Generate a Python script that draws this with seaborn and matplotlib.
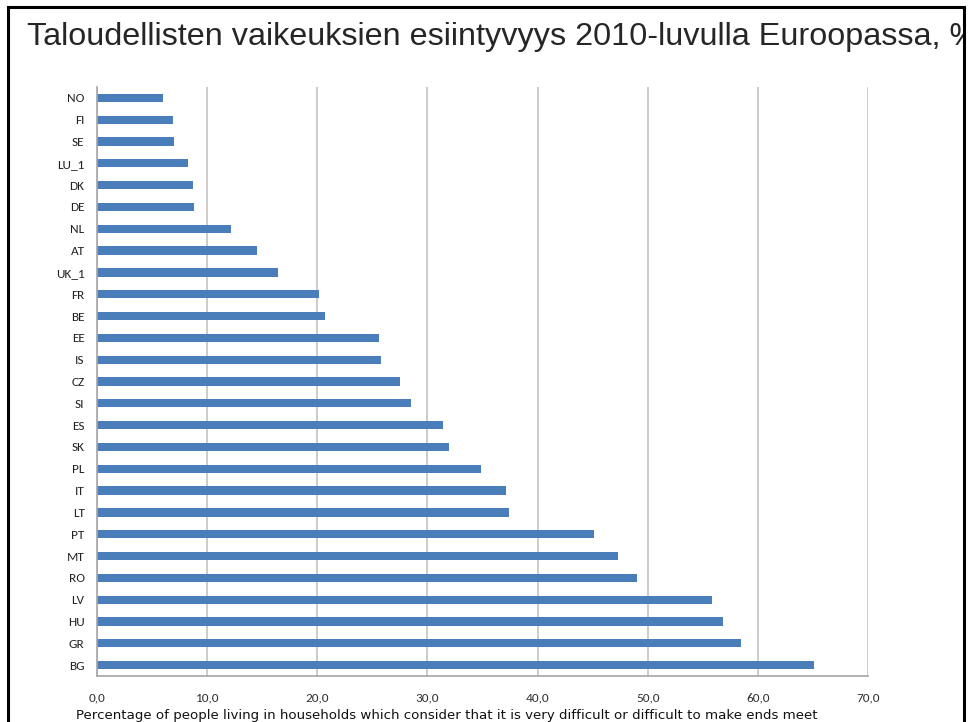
import matplotlib
matplotlib.use("Agg")
import matplotlib.pyplot as plt
import matplotlib.patches as patches
from matplotlib.ticker import FuncFormatter, FixedLocator
import pandas as pd
import seaborn as sns

# Data
countries = ["NO", "FI", "SE", "LU_1", "DK", "DE", "NL", "AT", "UK_1", "FR",
             "BE", "EE", "IS", "CZ", "SI", "ES", "SK", "PL", "IT", "LT",
             "PT", "MT", "RO", "LV", "HU", "GR", "BG"]
values = [6.0, 6.9, 7.0, 8.3, 8.7, 8.8, 12.2, 14.5, 16.4, 20.2,
          20.7, 25.6, 25.8, 27.5, 28.5, 31.4, 32.0, 34.9, 37.1, 37.4,
          45.1, 47.3, 49.0, 55.8, 56.8, 58.5, 65.1]
x_ticks = [0, 10, 20, 30, 40, 50, 60, 70]

title = "Taloudellisten vaikeuksien esiintyvyys 2010-luvulla Euroopassa, %"
xlabel = ("Percentage of people living in households which consider that it is "
          "very difficult or difficult to make ends meet")

df = pd.DataFrame({"country": countries, "value": values})

sns.set_style("white")
plt.rcParams["font.family"] = ["Carlito", "Lato", "DejaVu Sans"]

W, H = 970, 722
fig = plt.figure(figsize=(W / 100, H / 100), dpi=100)
ax = fig.add_axes([97 / W, 1 - 676 / H, (868 - 97) / W, (676 - 87) / H])

sns.barplot(data=df, x="value", y="country", orient="h", color="#4a7ebb",
            saturation=1, width=0.38, linewidth=0, ax=ax)

ax.set_xlim(0, 70)
ax.set_ylim(len(countries) - 0.5, -0.5)
ax.xaxis.set_major_locator(FixedLocator(x_ticks))
ax.xaxis.set_major_formatter(FuncFormatter(lambda v, p: f"{v:.1f}".replace(".", ",")))
ax.grid(axis="x", color="#c4c4c4", linewidth=1.2)
ax.set_axisbelow(True)

for s in ["top", "right"]:
    ax.spines[s].set_visible(False)
for s in ["left", "bottom"]:
    ax.spines[s].set_color("#a6a6a6")
    ax.spines[s].set_linewidth(1.2)

# Excel-style tick marks between categories
ax.yaxis.set_minor_locator(FixedLocator([i - 0.5 for i in range(len(countries) + 1)]))
ax.tick_params(axis="y", which="major", length=0, pad=9, labelsize=9.5, labelcolor="#222222")
ax.tick_params(axis="y", which="minor", length=5, color="#a6a6a6", width=1)
ax.tick_params(axis="x", which="major", length=5, color="#a6a6a6", width=1,
               labelsize=9.5, labelcolor="#333333", pad=7)

ax.set_ylabel("")
ax.set_xlabel(xlabel, fontsize=9.6, color="#111111", family="DejaVu Sans")
ax.xaxis.set_label_coords((447 - 97) / (868 - 97), -(709 - 676) / (676 - 87))

# slide frame
frame = patches.Rectangle((8 / W, -0.05), (964 - 8) / W, 1 - 7 / H + 0.05,
                          transform=fig.transFigure, fill=False,
                          edgecolor="black", linewidth=2.2)
fig.patches.append(frame)

clip = patches.Rectangle((8 / W, 0), (963 - 8) / W, 1, transform=fig.transFigure,
                         visible=False)
fig.patches.append(clip)
t = fig.text(27 / W, 1 - 44.5 / H, title, fontsize=23.3, va="baseline", ha="left",
             family=["Liberation Sans", "DejaVu Sans"])
t.set_clip_path(clip)

fig.savefig("out.png", dpi=100)
